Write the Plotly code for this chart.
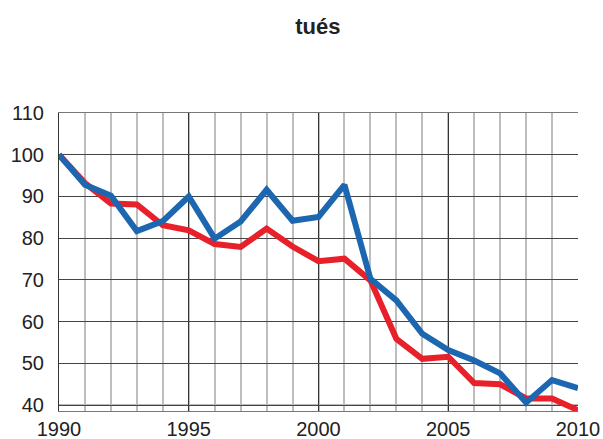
import plotly.graph_objects as go

years = list(range(1990, 2011))
blue_values = [100, 92.8, 90.2, 81.7, 84.1, 90.0, 79.9, 84.0, 91.6, 84.2, 85.1,
               92.8, 70.3, 65.1, 57.1, 53.2, 50.7, 47.6, 40.6, 46.0, 44.1]
red_values = [100, 93.2, 88.3, 88.1, 83.1, 81.9, 78.6, 77.9, 82.3, 78.0, 74.5,
              75.1, 69.9, 55.9, 51.1, 51.6, 45.3, 45.0, 41.6, 41.6, 38.8]
y_ticks = [40, 50, 60, 70, 80, 90, 100, 110]
x_ticks = [1990, 1995, 2000, 2005, 2010]
title_text = "tués"

fig = go.Figure()
fig.add_trace(go.Scatter(x=years, y=red_values, mode="lines",
                         line=dict(color="#e8202a", width=6), showlegend=False))
fig.add_trace(go.Scatter(x=years, y=blue_values, mode="lines",
                         line=dict(color="#1c67b0", width=6), showlegend=False))

font_family = "Liberation Sans, Arial, sans-serif"
fig.update_layout(
    width=603, height=439,
    margin=dict(l=59, r=25, t=113, b=28),
    paper_bgcolor="white", plot_bgcolor="white",
    title=dict(text="<b>" + title_text + "</b>", x=0.527, xanchor="center",
               y=1 - 26 / 439, yanchor="middle",
               font=dict(family=font_family, size=22, color="#222")),
    font=dict(family=font_family, size=20, color="#222"),
    xaxis=dict(range=[1990, 2010], tickvals=x_ticks, showgrid=True,
               gridcolor="#333", gridwidth=1, zeroline=False,
               showline=True, linecolor="#777", linewidth=1, mirror=True,
               ticks="", automargin=False,
               minor=dict(dtick=1, tick0=1990, showgrid=True,
                          gridcolor="#bdbdbd", gridwidth=1.5)),
    yaxis=dict(range=[38.6, 110], tickvals=y_ticks, showgrid=True,
               gridcolor="#444", gridwidth=1.3, zeroline=False,
               showline=True, linecolor="#333", linewidth=1,
               ticks="", ticklabelstandoff=10, automargin=False),
)
fig.add_shape(type="line", xref="paper", x0=0, x1=1, yref="y", y0=40, y1=40,
              line=dict(color="#333", width=1), layer="below")
fig.write_html("out.html", config={"displayModeBar": False},
               post_script="document.body.style.margin='0';")
